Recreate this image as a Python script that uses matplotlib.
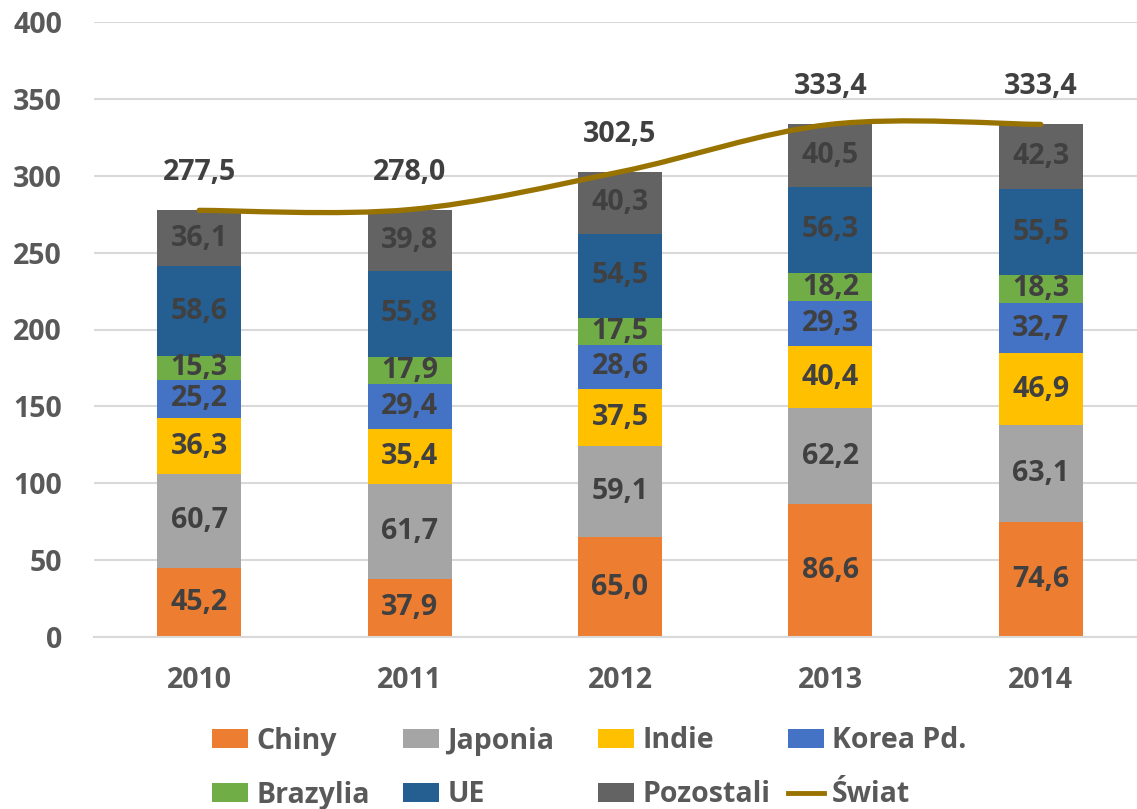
import matplotlib
matplotlib.use("Agg")
import matplotlib.pyplot as plt
from matplotlib.path import Path
from matplotlib.patches import PathPatch, Patch
from matplotlib.lines import Line2D
import numpy as np

years = ["2010", "2011", "2012", "2013", "2014"]
series_names = ["Chiny", "Japonia", "Indie", "Korea Pd.", "Brazylia", "UE", "Pozostali"]
chiny = [45.2, 37.9, 65.0, 86.6, 74.6]
japonia = [60.7, 61.7, 59.1, 62.2, 63.1]
indie = [36.3, 35.4, 37.5, 40.4, 46.9]
korea = [25.2, 29.4, 28.6, 29.3, 32.7]
brazylia = [15.3, 17.9, 17.5, 18.2, 18.3]
ue = [58.6, 55.8, 54.5, 56.3, 55.5]
pozostali = [36.1, 39.8, 40.3, 40.5, 42.3]
swiat = [277.5, 278.0, 302.5, 333.4, 333.4]
yticks = [0, 50, 100, 150, 200, 250, 300, 350, 400]

colors = ["#ED7D31", "#A5A5A5", "#FFC000", "#4472C4", "#70AD47", "#255E91", "#636363"]
line_color = "#997300"
txt_color = "#404040"
tick_color = "#595959"

plt.rcParams['font.family'] = ['Open Sans', 'DejaVu Sans']
plt.rcParams['font.weight'] = 'bold'

fig = plt.figure(figsize=(11.37, 8.09), dpi=100)
ax = fig.add_axes([94/1137, 1-637/809, (1146-94)/1137, (637-22)/809])

x = np.arange(len(years))
data = [chiny, japonia, indie, korea, brazylia, ue, pozostali]
bottom = np.zeros(len(years))
fs = 20.5
for name, vals, c in zip(series_names, data, colors):
    vals = np.array(vals)
    ax.bar(x, vals, width=0.4, bottom=bottom, color=c, zorder=2)
    for xi, b, v in zip(x, bottom, vals):
        ax.text(xi, b + v/2, f"{v:.1f}".replace(".", ","), ha="center", va="center",
                fontsize=fs, fontweight="bold", color=txt_color, zorder=3)
    bottom += vals

# smoothed line (Catmull-Rom as cubic Bezier in data coordinates)
pts = np.column_stack([x, swiat]).astype(float)
verts = [tuple(pts[0])]
codes = [Path.MOVETO]
n = len(pts)
for i in range(n - 1):
    p0 = pts[i - 1] if i > 0 else pts[i]
    p1 = pts[i]
    p2 = pts[i + 1]
    p3 = pts[i + 2] if i + 2 < n else pts[i + 1]
    c1 = p1 + (p2 - p0) / 6
    c2 = p2 - (p3 - p1) / 6
    verts += [tuple(c1), tuple(c2), tuple(p2)]
    codes += [Path.CURVE4] * 3
ax.add_patch(PathPatch(Path(verts, codes), facecolor="none", edgecolor=line_color,
                       lw=3.8, capstyle="round", zorder=4))
for xi, v in zip(x, swiat):
    ax.annotate(f"{v:.1f}".replace(".", ","), (xi, v), xytext=(0, 27), textcoords="offset points",
                ha="center", va="center", fontsize=fs, fontweight="bold", color=txt_color, zorder=5)

ax.set_xlim(-0.5, len(years) - 0.5)
ax.set_ylim(0, 400)
ax.set_yticks(yticks)
ax.set_xticks(x)
ax.set_xticklabels(years)
ax.yaxis.grid(True, color="#D9D9D9", lw=1.5, zorder=0)
ax.set_axisbelow(True)
for s in ["top", "right", "left"]:
    ax.spines[s].set_visible(False)
ax.spines["bottom"].set_color("#D9D9D9")
ax.spines["bottom"].set_linewidth(1.5)
ax.tick_params(axis="both", length=0, labelsize=fs, labelcolor=tick_color)
ax.tick_params(axis="y", pad=23)
ax.tick_params(axis="x", pad=21)
for lbl in ax.get_xticklabels() + ax.get_yticklabels():
    lbl.set_fontweight("bold")

# legend entries placed individually
handles = [Patch(facecolor=c) for c in colors] + [Line2D([], [], color=line_color, lw=3.5)]
labels = series_names + ["Świat"]
positions = [(212, 741), (403, 741), (598, 741), (788, 741),
             (212, 795), (403, 795), (598, 795), (788, 795)]
for h, l, (px, py) in zip(handles, labels, positions):
    leg = fig.legend([h], [l], loc="center left", bbox_to_anchor=(px/1137, 1-py/809),
                     frameon=False, fontsize=fs, handlelength=1.25, handleheight=0.6,
                     handletextpad=0.3, borderpad=0, borderaxespad=0,
                     prop={"weight": "bold", "size": fs})
    for t in leg.get_texts():
        t.set_color(tick_color)

fig.savefig("out.png", dpi=100)
